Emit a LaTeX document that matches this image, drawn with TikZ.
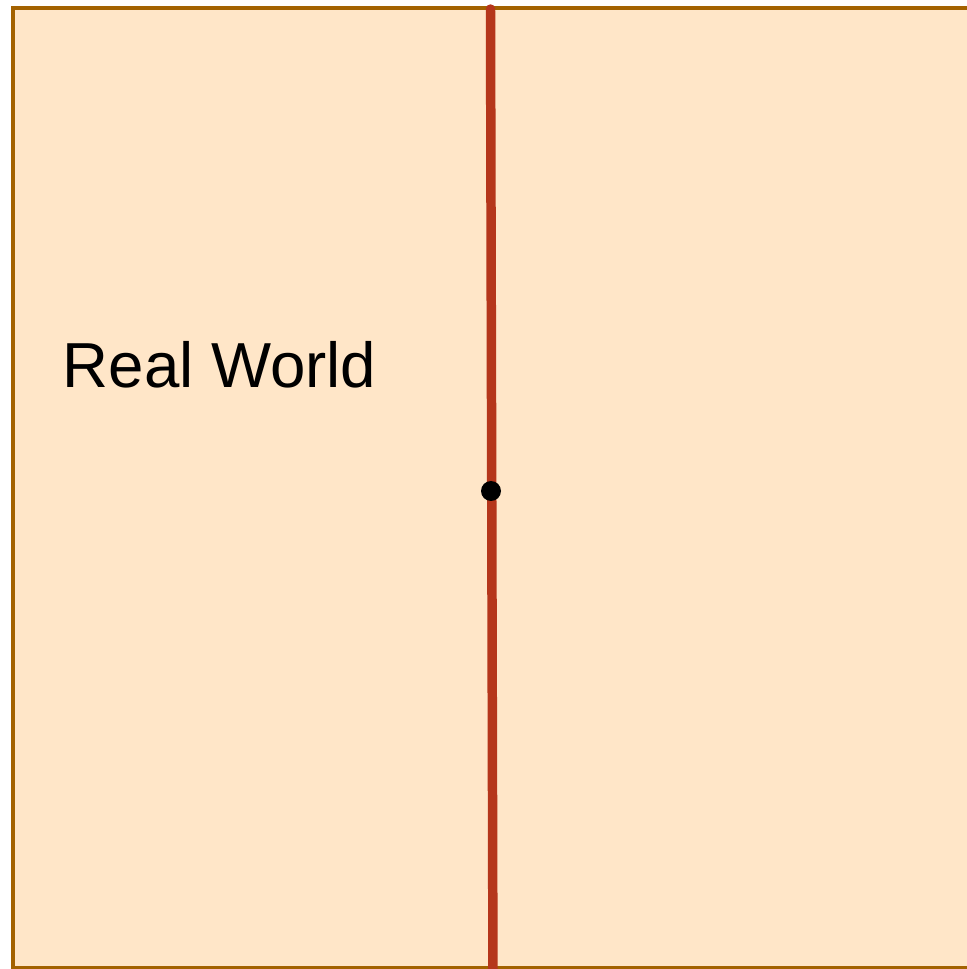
\documentclass[tikz,border=0pt]{standalone}
\usepackage{fontspec}
\setmainfont{Liberation Sans}
\usetikzlibrary{positioning}
\definecolor{cworld}{HTML}{FFE6C8}
\definecolor{cworldD}{HTML}{A36200}
\definecolor{cline}{HTML}{B5361B}
\tikzset{
  world/.style={draw=cworldD, fill=cworld, line width=1.05pt},
  wlabel/.style={inner sep=0pt, anchor=base west, font=\fontsize{18.1pt}{20pt}\selectfont},
  bound/.style={draw=cline, line width=2.7pt, line cap=round},
  pdot/.style={circle, fill=black, inner sep=0pt, minimum size=0.2cm},
}
\begin{document}
\begin{tikzpicture}
  \useasboundingbox (0,0) rectangle (9.67,9.69);
  \clip (0,0) rectangle (9.67,9.69);
  \draw[world] (0.13,0.015) rectangle (10.2,9.61);
  \node[wlabel] (rw) at (0.62,5.81) {Real World};
  \coordinate (top) at (4.905,9.6);
  \coordinate (bot) at (4.93,-0.2);
  \draw[bound] (top) -- (bot);
  \node[pdot] (p) at (4.91,4.78) {};
\end{tikzpicture}
\end{document}
